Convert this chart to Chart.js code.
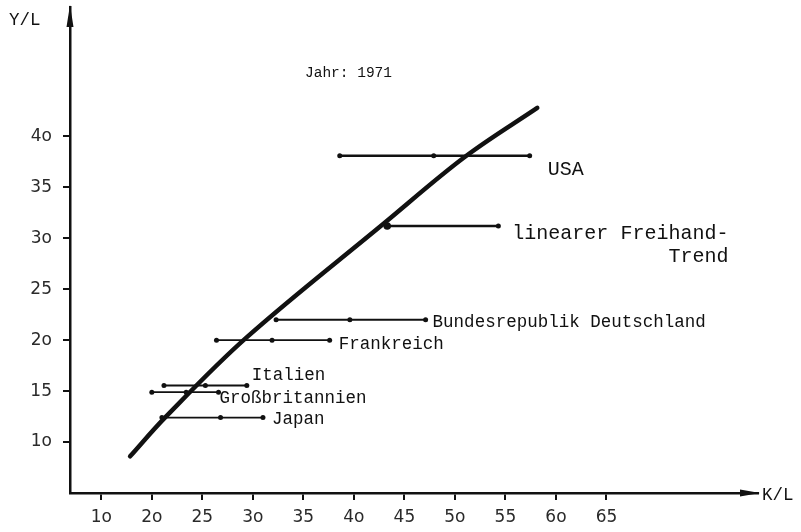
<!DOCTYPE html>
<html><head><meta charset="utf-8">
<script src="https://cdn.jsdelivr.net/npm/chart.js@4/dist/chart.umd.min.js"></script>
<style>html,body{margin:0;padding:0;background:#fff}#wrap{width:801px;height:532px}</style>
</head><body><div id="wrap"><canvas id="c" width="801" height="532"></canvas></div>
<script>
// ---- data ----
const countries = ['USA', 'linearer Freihand-Trend', 'Bundesrepublik Deutschland', 'Frankreich', 'Italien', 'Großbritannien', 'Japan'];
const labelLines = [['USA'], ['linearer Freihand-', 'Trend'], ['Bundesrepublik Deutschland'], ['Frankreich'], ['Italien'], ['Großbritannien'], ['Japan']];
const countryY = [38.1, 31.2, 22.0, 20.0, 15.55, 14.9, 12.4];
const kMin = [38.6, 43.3, 32.3, 26.4, 21.2, 20.0, 21.0];
const kMid = [47.9, null, 39.6, 31.9, 25.3, 23.4, 26.8];
const kMax = [57.4, 54.3, 47.1, 37.6, 29.4, 26.6, 31.0];
const trendK = [17.85, 21.3, 29.3, 42.9, 51.0, 58.15];
const trendY = [8.6, 12.4, 20.2, 31.4, 38.0, 42.8];
const xTickValues = [15, 20, 25, 30, 35, 40, 45, 50, 55, 60, 65];
const xTickLabels = ['1o', '2o', '25', '3o', '35', '4o', '45', '5o', '55', '6o', '65'];
const yTickValues = [10, 15, 20, 25, 30, 35, 40];
const yTickLabels = ['1o', '15', '2o', '25', '3o', '35', '4o'];
const titleText = 'Jahr: 1971';
const xAxisTitle = 'K/L';
const yAxisTitle = 'Y/L';

// ---- styles (not data) ----
const labelStyle = [
  {dx: 18, dy: 14, size: 20},
  {dx: 14, dy: 8, size: 20, dy2: 31},
  {dx: 7, dy: 3, size: 17.5},
  {dx: 9, dy: 4, size: 17.5},
  {dx: 5, dy: -10, size: 17.5},
  {dx: 1, dy: 6, size: 17.5},
  {dx: 9, dy: 2, size: 17.5}
];
const INK = '#111';

const datasets = [];
countries.forEach((name, i) => {
  const pts = [{x: kMin[i], y: countryY[i]}];
  if (kMid[i] !== null) pts.push({x: kMid[i], y: countryY[i]});
  pts.push({x: kMax[i], y: countryY[i]});
  const radii = pts.map(() => 2.5);
  if (i === 1) radii[0] = 3.8;
  datasets.push({
    label: name, data: pts, borderColor: INK, backgroundColor: INK,
    borderWidth: (i <= 1) ? 2.4 : 1.9, pointRadius: radii, pointBorderWidth: 0,
    pointBackgroundColor: INK, tension: 0
  });
});
datasets.push({
  label: 'Trend', data: trendK.map((k, i) => ({x: k, y: trendY[i]})),
  borderColor: INK, borderWidth: 4.5, pointRadius: 0, tension: 0.35,
  borderCapStyle: 'round'
});

const decor = {
  id: 'decor',
  afterDraw(chart) {
    const ctx = chart.ctx, a = chart.chartArea;
    const xs = chart.scales.x, ys = chart.scales.y;
    ctx.save();
    ctx.fillStyle = INK;
    // y arrow
    ctx.beginPath();
    ctx.moveTo(a.left, a.top - 2);
    ctx.lineTo(a.left - 3.5, a.top + 20);
    ctx.lineTo(a.left + 3.5, a.top + 20);
    ctx.closePath(); ctx.fill();
    // x arrow
    ctx.beginPath();
    ctx.moveTo(a.right + 2, a.bottom);
    ctx.lineTo(a.right - 18, a.bottom - 3.5);
    ctx.lineTo(a.right - 18, a.bottom + 3.5);
    ctx.closePath(); ctx.fill();
    // axis titles
    ctx.textBaseline = 'middle';
    ctx.textAlign = 'left';
    ctx.font = '17.5px "Liberation Mono"';
    ctx.fillText(yAxisTitle, 9, 20);
    ctx.fillText(xAxisTitle, a.right + 4, a.bottom + 2);
    // title
    ctx.font = '14.5px "Liberation Mono"';
    ctx.fillText(titleText, 305, 73);
    // country labels
    countries.forEach((name, i) => {
      const st = labelStyle[i];
      const px = xs.getPixelForValue(kMax[i]) + st.dx;
      const py = ys.getPixelForValue(countryY[i]);
      ctx.font = st.size + 'px "Liberation Mono"';
      const lines = labelLines[i];
      ctx.textAlign = 'left';
      ctx.fillText(lines[0], px, py + st.dy);
      if (lines.length > 1) {
        const w = ctx.measureText(lines[0]).width;
        ctx.textAlign = 'right';
        ctx.fillText(lines[1], px + w, py + st.dy2);
      }
    });
    ctx.restore();
  }
};

new Chart(document.getElementById('c'), {
  type: 'line',
  data: {datasets},
  options: {
    responsive: false, animation: false, devicePixelRatio: 1,
    layout: {padding: {top: 7, right: 43, left: 0, bottom: 0}},
    plugins: {legend: {display: false}, tooltip: {enabled: false}, title: {display: false}},
    scales: {
      x: {
        type: 'linear', min: 11.9, max: 80,
        afterBuildTicks: s => { s.ticks = xTickValues.map(v => ({value: v})); },
        afterFit: s => { s.height = 39; s.paddingLeft = 0; s.paddingRight = 0; },
        ticks: {
          callback: v => xTickLabels[xTickValues.indexOf(v)],
          font: {family: 'DejaVu Sans', size: 17}, color: '#2a2a2a', padding: 7, maxRotation: 0, autoSkip: false
        },
        grid: {drawOnChartArea: false, drawTicks: true, tickLength: 7, color: INK, lineWidth: 2},
        border: {display: true, color: INK, width: 2.5}
      },
      y: {
        type: 'linear', min: 5, max: 52.7,
        afterBuildTicks: s => { s.ticks = yTickValues.map(v => ({value: v})); },
        afterFit: s => { s.width = 70; s.paddingTop = 0; s.paddingBottom = 0; },
        ticks: {
          callback: v => yTickLabels[yTickValues.indexOf(v)],
          font: {family: 'DejaVu Sans', size: 17}, color: '#2a2a2a', padding: 11, autoSkip: false
        },
        grid: {drawOnChartArea: false, drawTicks: true, tickLength: 7, color: INK, lineWidth: 2},
        border: {display: true, color: INK, width: 2.5}
      }
    }
  },
  plugins: [decor]
});
</script>
</body></html>
